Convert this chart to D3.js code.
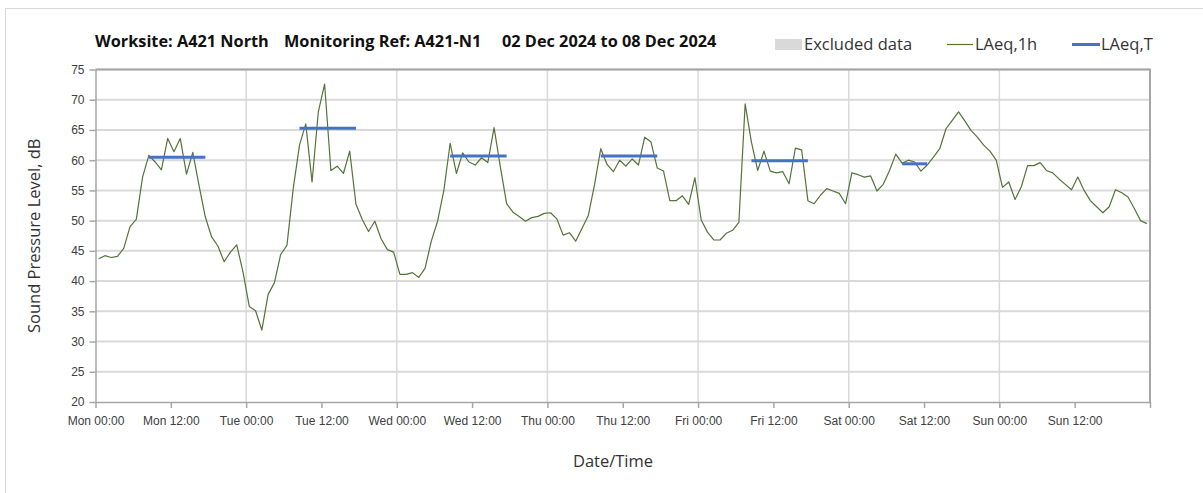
<!DOCTYPE html>
<html>
<head>
<meta charset="utf-8">
<script src="https://cdn.jsdelivr.net/npm/d3@7"></script>
<style>
  body { margin: 0; background: #fff; }
  svg { display: block; font-family: "Open Sans", "Noto Sans", sans-serif; }
  .frame { fill: none; stroke: #d9d9d9; stroke-width: 1; }
  .grid line { stroke: #d9d9d9; stroke-width: 2; }
  .vgrid line { stroke: #d9d9d9; stroke-width: 1.5; }
  .axis path, .axis line { stroke: #a6a6a6; stroke-width: 1.5; }
  .axis text { fill: #404040; font-size: 12px; }
  .border { fill: none; stroke: #a6a6a6; stroke-width: 2; }
  .laeq1h { fill: none; stroke: #55733a; stroke-width: 1.2; stroke-linejoin: round; }
  .laeqT { stroke: #4472c4; stroke-width: 3; }
  .title { font-weight: bold; font-size: 16.3px; fill: #111; }
  .legend text, .axis-title { font-size: 16.5px; fill: #333; }
</style>
</head>
<body>
<script>
const titleParts = ["Worksite: A421 North", "Monitoring Ref: A421-N1", "02 Dec 2024 to 08 Dec 2024"];
const startTime = new Date(2024, 11, 2, 0, 0);
const dayNames = ["Sun", "Mon", "Tue", "Wed", "Thu", "Fri", "Sat"];

// hourly LAeq,1h values, Mon 00:00 onwards (168 hours)
const laeq1h = [
  43.7, 44.2, 43.9, 44.1, 45.4, 49.0, 50.2, 57.2, 60.8, 59.7, 58.4, 63.6,
  61.4, 63.6, 57.7, 61.3, 55.8, 50.6, 47.3, 45.8, 43.2, 44.8, 46.0, 41.5,
  35.8, 35.1, 31.9, 37.8, 39.7, 44.4, 45.9, 55.3, 62.5, 66.0, 56.4, 68.0,
  72.6, 58.3, 59.0, 57.8, 61.5, 52.7, 50.2, 48.2, 49.9, 47.0, 45.2, 44.8,
  41.1, 41.1, 41.4, 40.6, 42.1, 46.6, 49.9, 55.0, 62.8, 57.8, 61.2, 59.7,
  59.2, 60.4, 59.6, 65.4, 58.9, 52.8, 51.4, 50.7, 49.9, 50.5, 50.7, 51.2,
  51.3, 50.3, 47.6, 48.0, 46.6, 48.7, 50.8, 55.9, 61.9, 59.3, 58.1, 60.0,
  59.0, 60.2, 59.2, 63.8, 63.0, 58.7, 58.2, 53.3, 53.3, 54.1, 52.7, 57.1,
  50.1, 48.1, 46.8, 46.8, 47.9, 48.4, 49.7, 69.3, 63.0, 58.3, 61.5, 58.2,
  57.9, 58.1, 56.1, 62.0, 61.7, 53.3, 52.8, 54.2, 55.3, 54.9, 54.5, 52.8,
  57.9, 57.6, 57.2, 57.4, 54.9, 56.0, 58.3, 61.0, 59.5, 60.0, 59.7, 58.2,
  59.2, 60.5, 61.9, 65.2, 66.6, 68.0, 66.5, 64.9, 63.8, 62.5, 61.5, 60.0,
  55.5, 56.4, 53.5, 55.6, 59.1, 59.1, 59.6, 58.3, 57.9, 56.9, 56.0, 55.1,
  57.2, 55.0, 53.3, 52.3, 51.3, 52.3, 55.1, 54.6, 53.9, 52.0, 50.0, 49.5
];

// LAeq,T per measurement period: first hour index, last hour index, level
const periodStart = [8, 32, 56, 80, 104, 128];
const periodEnd = [17, 41, 65, 89, 113, 132];
const periodLevel = [60.5, 65.3, 60.7, 60.7, 59.9, 59.4];

const yTicks = [20, 25, 30, 35, 40, 45, 50, 55, 60, 65, 70, 75];

const W = 1203, H = 493;
const margin = { left: 95.5, right: 53, top: 69.5, bottom: 91 };

const svg = d3.select("body").append("svg")
  .attr("width", W).attr("height", H);

svg.append("rect").attr("class", "frame")
  .attr("x", 5.5).attr("y", 8.5).attr("width", W + 10).attr("height", H + 10);

const endTime = d3.timeHour.offset(startTime, 168);
const x = d3.scaleTime()
  .domain([startTime, endTime])
  .range([margin.left, W - margin.right]);
const y = d3.scaleLinear()
  .domain([20, 75])
  .range([H - margin.bottom, margin.top]);

const hourTime = i => d3.timeMinute.offset(startTime, i * 60 + 30);

// horizontal gridlines
svg.append("g").attr("class", "grid")
  .selectAll("line").data(yTicks.slice(1)).join("line")
  .attr("x1", margin.left).attr("x2", W - margin.right)
  .attr("y1", d => y(d)).attr("y2", d => y(d));

// vertical gridlines at midnight
svg.append("g").attr("class", "vgrid")
  .selectAll("line").data(d3.timeDay.range(d3.timeDay.offset(startTime, 1), endTime)).join("line")
  .attr("x1", d => x(d)).attr("x2", d => x(d))
  .attr("y1", margin.top).attr("y2", H - margin.bottom);

// plot border (top + right)
svg.append("path").attr("class", "border")
  .attr("d", `M${margin.left},${margin.top}H${W - margin.right}V${H - margin.bottom}`);

// axes
const xTicks = d3.timeHour.every(12).range(startTime, endTime);
const xAxis = svg.append("g").attr("class", "axis")
  .attr("transform", `translate(0,${H - margin.bottom})`)
  .call(d3.axisBottom(x).tickValues(xTicks.concat([endTime])).tickSize(6).tickSizeOuter(0)
    .tickFormat(d => d < endTime ? dayNames[d.getDay()] + " " + d3.timeFormat("%H:%M")(d) : ""));
xAxis.selectAll("text").attr("dy", "1.2em");

const yAxis = svg.append("g").attr("class", "axis")
  .attr("transform", `translate(${margin.left},0)`)
  .call(d3.axisLeft(y).tickValues(yTicks).tickSize(6).tickSizeOuter(0).tickPadding(5));

// LAeq,1h line
const line = d3.line()
  .x((d, i) => x(hourTime(i)))
  .y(d => y(d));
svg.append("path").datum(laeq1h).attr("class", "laeq1h").attr("d", line);

// LAeq,T period lines
svg.append("g").selectAll("line").data(periodLevel).join("line")
  .attr("class", "laeqT")
  .attr("x1", (d, i) => x(hourTime(periodStart[i])))
  .attr("x2", (d, i) => x(hourTime(periodEnd[i])))
  .attr("y1", d => y(d)).attr("y2", d => y(d));

// title
const titleX = [95, 284, 502];
svg.append("g").selectAll("text").data(titleParts).join("text")
  .attr("class", "title")
  .attr("x", (d, i) => titleX[i]).attr("y", 47)
  .text(d => d);

// legend
const legend = svg.append("g").attr("class", "legend");
legend.append("rect").attr("x", 775).attr("y", 39).attr("width", 27).attr("height", 11).attr("fill", "#d9d9d9");
legend.append("text").attr("x", 804).attr("y", 50).text("Excluded data");
legend.append("line").attr("class", "laeq1h").attr("x1", 947).attr("x2", 973).attr("y1", 44.5).attr("y2", 44.5);
legend.append("text").attr("x", 975).attr("y", 50).text("LAeq,1h");
legend.append("line").attr("class", "laeqT").attr("x1", 1072).attr("x2", 1100).attr("y1", 44.5).attr("y2", 44.5);
legend.append("text").attr("x", 1101).attr("y", 50).text("LAeq,T");

// axis titles
svg.append("text").attr("class", "axis-title")
  .attr("x", 613).attr("y", 467).attr("text-anchor", "middle").text("Date/Time");
svg.append("text").attr("class", "axis-title")
  .attr("transform", `translate(40,${(margin.top + H - margin.bottom) / 2}) rotate(-90)`)
  .attr("text-anchor", "middle").text("Sound Pressure Level, dB");
</script>
</body>
</html>
